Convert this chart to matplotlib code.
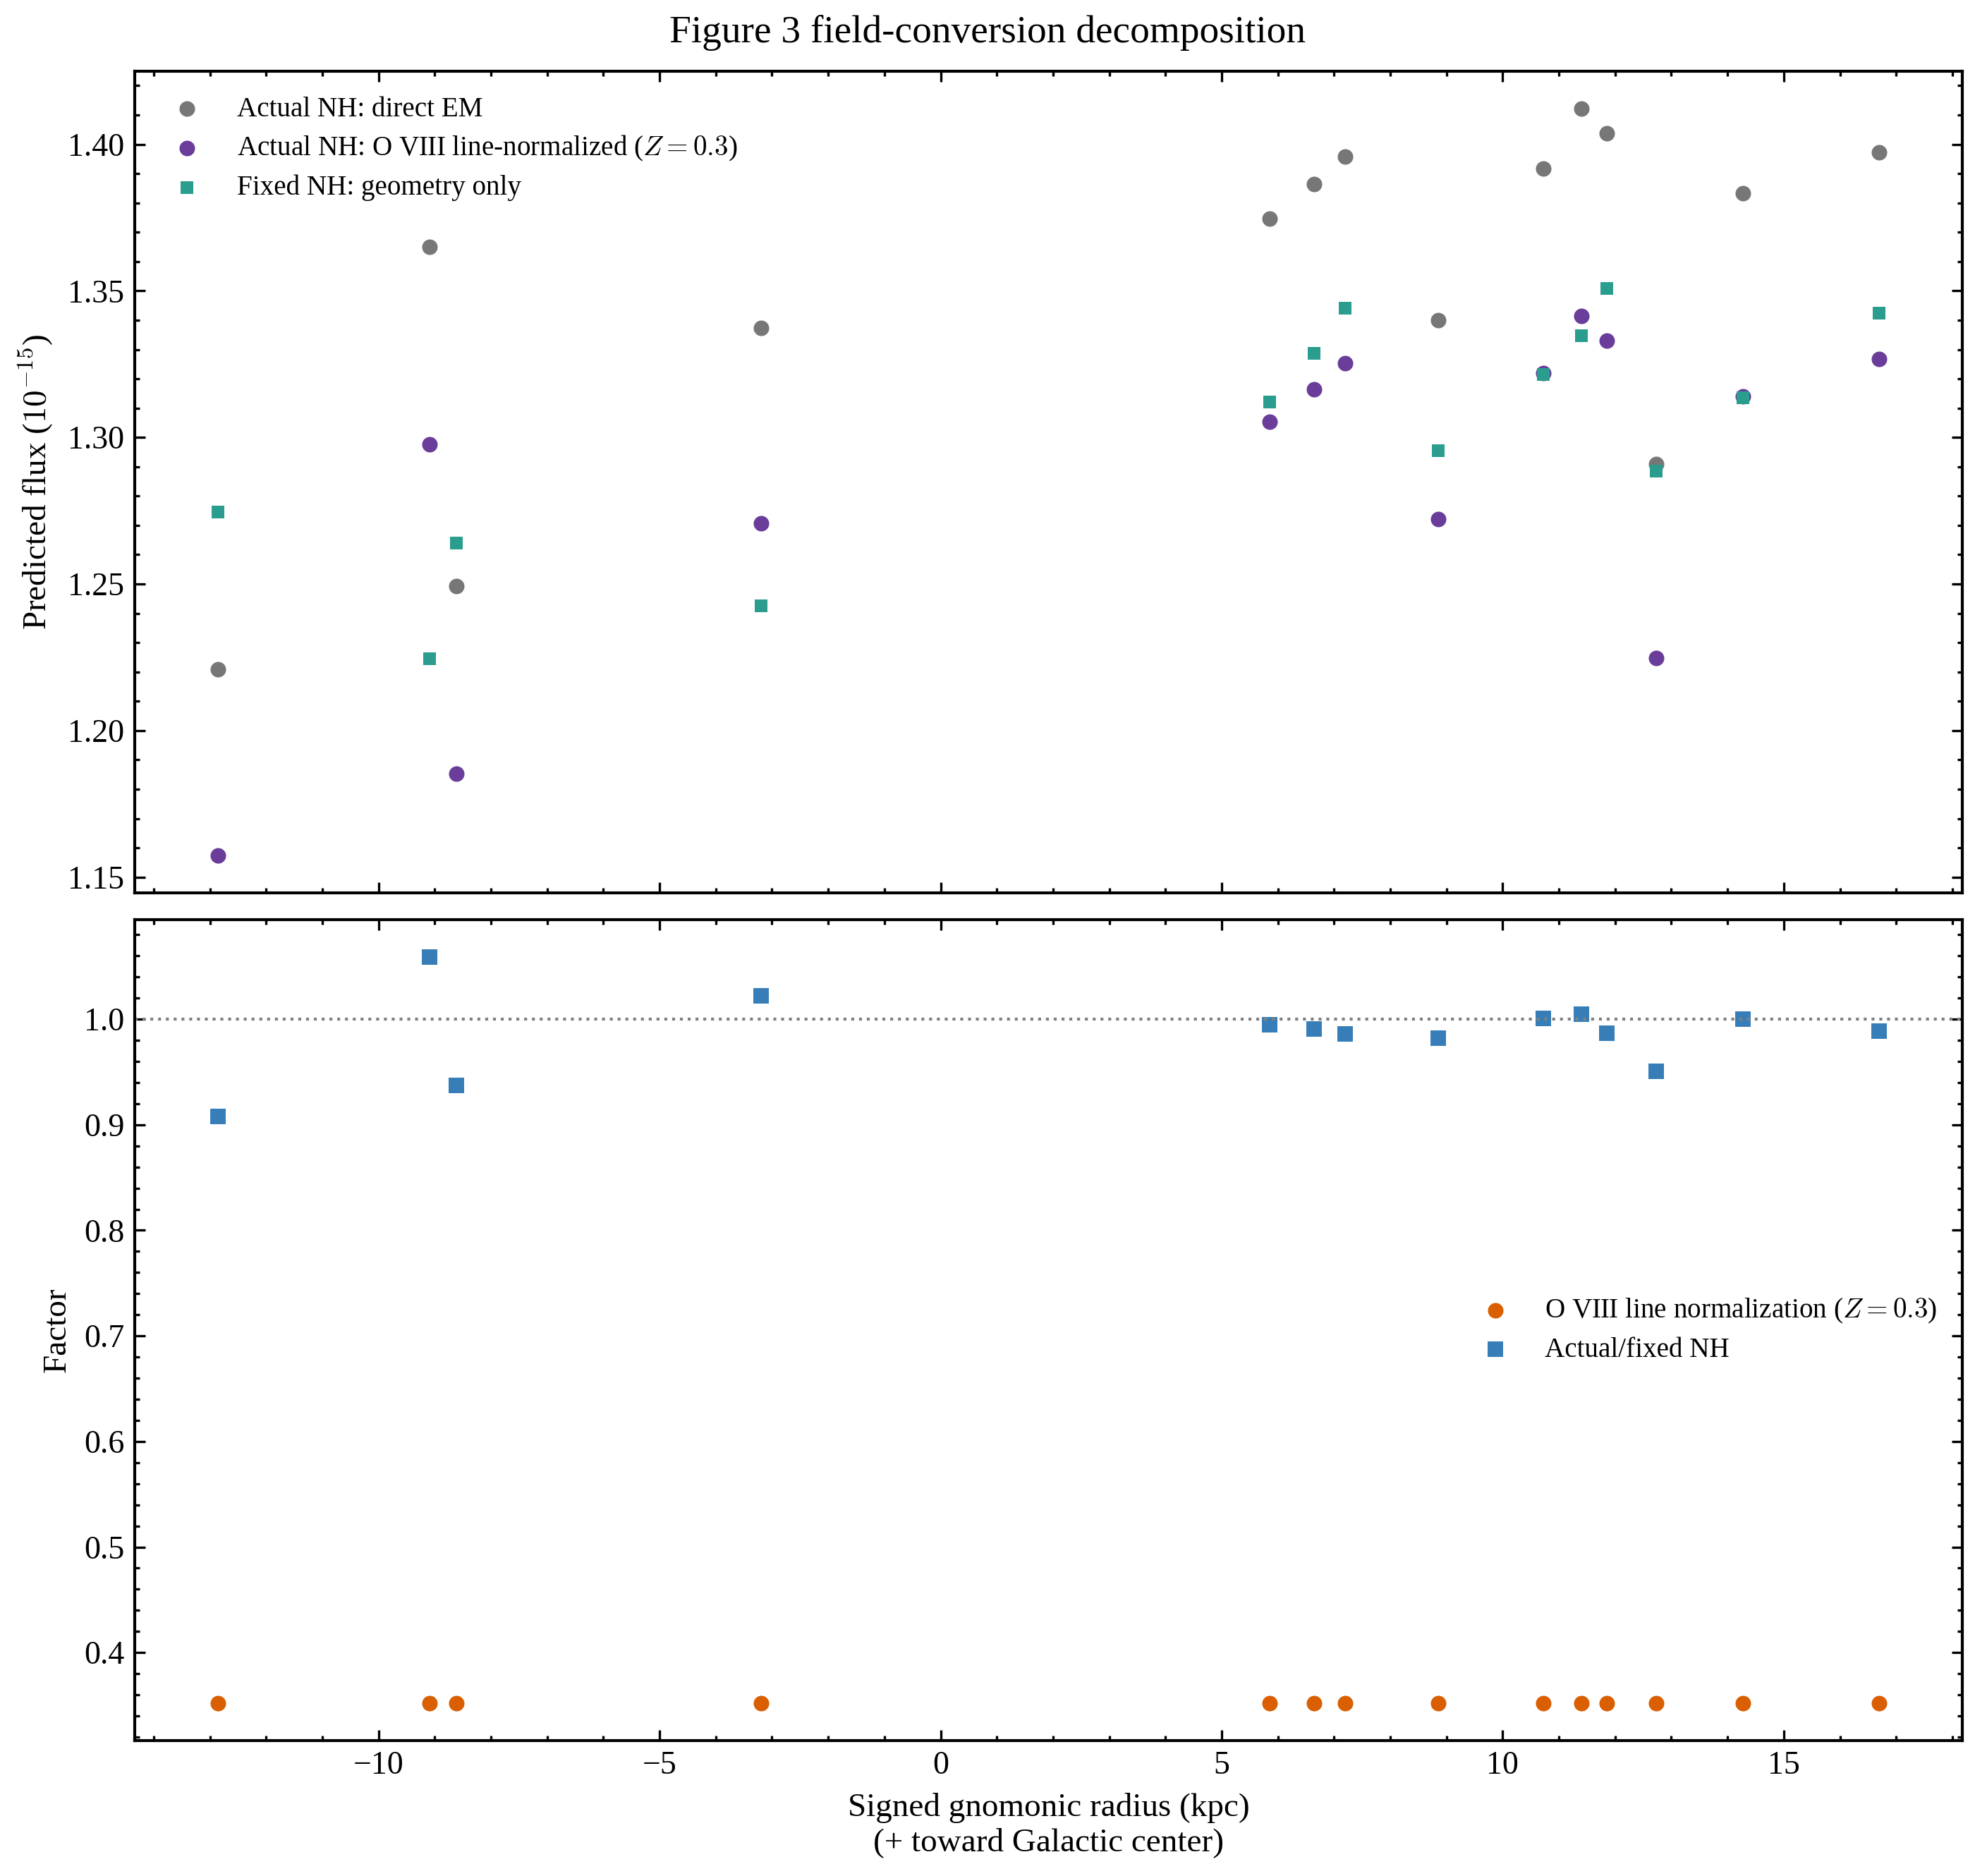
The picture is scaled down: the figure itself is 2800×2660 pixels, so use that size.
import numpy as np
import matplotlib
matplotlib.use("Agg")
import matplotlib.pyplot as plt
from matplotlib.ticker import AutoMinorLocator

# Values
radius = [-12.86, -9.09, -8.62, -3.20, 5.86, 6.64, 7.20, 8.85,
          10.72, 11.40, 11.85, 12.73, 14.27, 16.70]

flux_direct_em = [1.2209, 1.3650, 1.2493, 1.3374, 1.3746, 1.3864, 1.3958, 1.3400,
                  1.3917, 1.4121, 1.4038, 1.2908, 1.3834, 1.3972]
flux_oviii_norm = [1.1574, 1.2977, 1.1852, 1.2708, 1.3054, 1.3164, 1.3253, 1.2722,
                   1.3220, 1.3415, 1.3330, 1.2248, 1.3140, 1.3267]
flux_fixed_nh = [1.2745, 1.2246, 1.2640, 1.2426, 1.3122, 1.3288, 1.3442, 1.2956,
                 1.3214, 1.3347, 1.3508, 1.2886, 1.3135, 1.3424]

factor_oviii = [0.352] * 14
factor_nh = [0.908, 1.059, 0.9375, 1.022, 0.9945, 0.991, 0.986, 0.982,
             1.0005, 1.0047, 0.9867, 0.9507, 1.000, 0.9885]

plt.rcParams.update({
    "font.family": ["Liberation Serif", "DejaVu Serif"],
    "mathtext.fontset": "cm",
    "axes.linewidth": 1.0,
    "xtick.direction": "in",
    "ytick.direction": "in",
    "xtick.top": True,
    "ytick.right": True,
    "xtick.major.size": 3.5,
    "ytick.major.size": 3.5,
    "xtick.minor.size": 1.75,
    "ytick.minor.size": 1.75,
    "xtick.major.width": 0.8,
    "ytick.major.width": 0.8,
    "xtick.minor.width": 0.8,
    "ytick.minor.width": 0.8,
    "xtick.labelsize": 11,
    "ytick.labelsize": 11,
    "axes.labelsize": 11.3,
    "legend.fontsize": 9.4,
    "legend.labelspacing": 0.42,
    "legend.frameon": False,
})

fig = plt.figure(figsize=(2800 / 300, 2660 / 300), dpi=300)
ax1 = fig.add_axes([0.0682, 0.5241, 0.9254, 0.4378])
ax2 = fig.add_axes([0.0682, 0.0722, 0.9254, 0.4376], sharex=ax1)

# top panel: predicted fluxes
ax1.scatter(radius, flux_direct_em, s=28, marker="o", color="#777777",
            linewidths=0, label="Actual NH: direct EM")
ax1.scatter(radius, flux_oviii_norm, s=28, marker="o", color="#6a3d9a",
            linewidths=0, label=r"Actual NH: O VIII line-normalized ($Z=0.3$)")
ax1.scatter(radius, flux_fixed_nh, s=18, marker="s", color="#2a9d8f",
            linewidths=0, label="Fixed NH: geometry only")
ax1.set_ylabel(r"Predicted flux ($10^{-15}$)")
ax1.legend(loc="upper left")
ax1.tick_params(labelbottom=False)

# bottom panel: conversion factors
ax2.axhline(1.0, color="gray", linestyle=":", linewidth=1.0)
ax2.scatter(radius, factor_oviii, s=28, marker="o", color="#d95f02",
            linewidths=0, label=r"O VIII line normalization ($Z=0.3$)")
ax2.scatter(radius, factor_nh, s=26, marker="s", color="#377eb8",
            linewidths=0, label="Actual/fixed NH")
ax2.set_ylabel("Factor")
ax2.set_xlabel("Signed gnomonic radius (kpc)\n(+ toward Galactic center)")
ax2.legend(loc="center right")

for ax in (ax1, ax2):
    ax.xaxis.set_minor_locator(AutoMinorLocator(5))
    ax.yaxis.set_minor_locator(AutoMinorLocator(5))
    ax.tick_params(which="both", top=True, right=True)

fig.suptitle("Figure 3 field-conversion decomposition", fontsize=13.3, y=0.992)

fig.savefig("out.png", dpi=300)
